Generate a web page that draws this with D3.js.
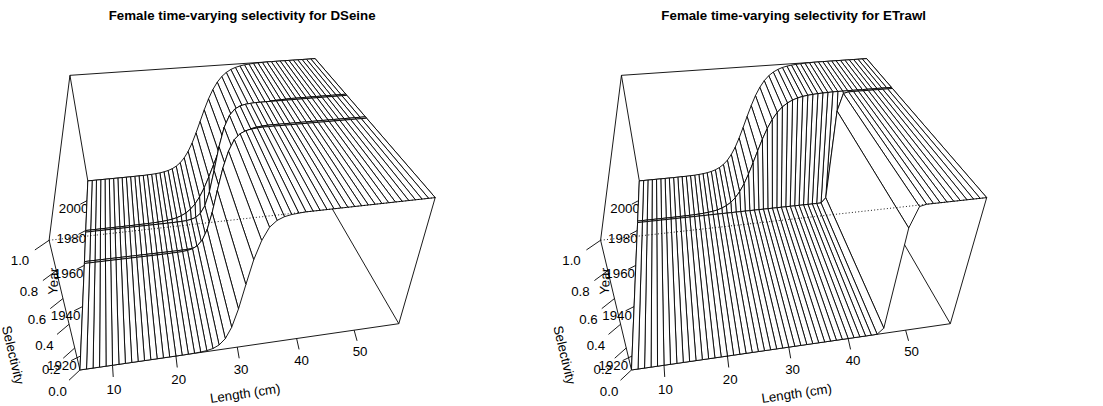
<!DOCTYPE html>
<html>
<head>
<meta charset="utf-8">
<script src="https://cdn.jsdelivr.net/npm/d3@7/dist/d3.min.js"></script>
<style>
html,body{margin:0;padding:0;background:#fff;}
svg{display:block;}
</style>
</head>
<body>
<svg id="chart" width="1103" height="406"></svg>
<script>
// ---------------- data ----------------
const lengths = [5,6,7,8,9,10,11,12,13,14,15,16,17,18,19,20,21,22,23,24,25,26,27,28,29,30,31,
                 32,33,34,35,36,37,38,39,40,41,42,43,44,45,46,47,48,49,50,51,52,53,54,55,56,57,58];
const yearRange = [1915, 2015];
const titles = ["Female time-varying selectivity for DSeine", "Female time-varying selectivity for ETrawl"];
const axisLabels = ["Length (cm)", "Year", "Selectivity"];

// DSeine: years on the grid and the selectivity block used in each of them
const dseineYears = [1915, 1961, 1962, 1979, 1980, 2015];
const dseineBlockOfYear = [0, 0, 1, 1, 2, 2];
const dseineBlock1 = [0,0,0,0,0,0,0,0,0,0,0,0,0,0,0,0,0,
  0.001,0.002,0.004,0.009,0.02,0.045,0.095,0.19,0.34,0.53,0.71,0.84,0.925,0.965,0.984,0.993,0.997,
  1,1,1,1,1,1,1,1,1,1,1,1,1,1,1,1,1,1,1,1];
const dseineBlock2 = [0,0,0,0,0,0,0,0,0,0,0,0,0,0,0,0,0,0,0,
  0.001,0.002,0.005,0.012,0.027,0.062,0.134,0.265,0.458,0.664,0.822,0.915,0.962,0.983,0.993,0.997,
  1,1,1,1,1,1,1,1,1,1,1,1,1,1,1,1,1,1,1];
const dseineBlock3 = [0,0,0,0,0,0,0,0,0,0,0,
  0.001,0.001,0.002,0.003,0.005,0.008,0.012,0.019,0.029,0.044,0.067,0.1,0.147,0.211,0.293,0.392,
  0.5,0.608,0.707,0.789,0.853,0.9,0.933,0.956,0.971,0.981,0.988,0.992,0.995,0.997,0.998,
  1,1,1,1,1,1,1,1,1,1,1,1];

// ETrawl
const etrawlYears = [1915, 1985, 1986, 2015];
const etrawlBlockOfYear = [0, 0, 1, 1];
const etrawlBlock1 = [0,0,0,0,0,0,0,0,0,0,0,0,0,0,0,0,0,0,0,0,0,0,0,0,0,0,0,0,0,0,0,0,0,0,0,0,0,0,0,0,
  0.001,0.05,0.85,0.99,
  1,1,1,1,1,1,1,1,1,1];
const etrawlBlock2 = [0,0,0,0,0,0,0,0,0,
  0.001,0.0015,0.002,0.003,0.005,0.008,0.012,0.018,0.027,0.041,
  0.061,0.09,0.131,0.187,0.259,0.348,0.448,0.552,0.652,0.741,
  0.813,0.869,0.91,0.939,0.959,0.973,0.982,0.988,0.992,0.995,0.997,0.998,
  1,1,1,1,1,1,1,1,1,1,1,1,1];

// ---------------- view (persp style) ----------------
const theta = -10, phi = 35, expandZ = 0.5, rEye = 2.8, dEye = 1;
const FONT = '"Liberation Sans", Arial, Helvetica, sans-serif';
const FS = 13.3;

const panels = [
  {title: titles[0], years: dseineYears, blockOfYear: dseineBlockOfYear,
   blocks: [dseineBlock1, dseineBlock2, dseineBlock3], region: {x: 49.1, y: 40, w: 386.1, h: 348.6}},
  {title: titles[1], years: etrawlYears, blockOfYear: etrawlBlockOfYear,
   blocks: [etrawlBlock1, etrawlBlock2], region: {x: 49.1 + 551.5, y: 40, w: 386.1, h: 348.6}}
];

const svg = d3.select("#chart");
svg.append("rect").attr("width", 1103).attr("height", 406).attr("fill", "#fff");

function I4(){return [[1,0,0,0],[0,1,0,0],[0,0,1,0],[0,0,0,1]];}
function matMul(A,B){const C=[];for(let i=0;i<4;i++){C.push([0,0,0,0]);for(let j=0;j<4;j++){let s=0;for(let k=0;k<4;k++)s+=A[i][k]*B[k][j];C[i][j]=s;}}return C;}
function buildVT(xlim,ylim,zlim){
  let VT=I4();
  const acc=T=>{VT=matMul(VT,T);};
  const xc=(xlim[0]+xlim[1])/2, yc=(ylim[0]+ylim[1])/2, zc=(zlim[0]+zlim[1])/2;
  const xs=Math.abs(xlim[1]-xlim[0])/2, ys=Math.abs(ylim[1]-ylim[0])/2, zs=Math.abs(zlim[1]-zlim[0])/2;
  let T=I4(); T[3][0]=-xc; T[3][1]=-yc; T[3][2]=-zc; acc(T);
  T=I4(); T[0][0]=1/xs; T[1][1]=1/ys; T[2][2]=expandZ/zs; acc(T);
  const xrot=a=>{const c=Math.cos(a*Math.PI/180),s=Math.sin(a*Math.PI/180);const R=I4();R[1][1]=c;R[2][1]=-s;R[2][2]=c;R[1][2]=s;acc(R);};
  const yrot=a=>{const c=Math.cos(a*Math.PI/180),s=Math.sin(a*Math.PI/180);const R=I4();R[0][0]=c;R[2][0]=s;R[2][2]=c;R[0][2]=-s;acc(R);};
  xrot(-90); yrot(-theta); xrot(phi);
  T=I4(); T[3][2]=-rEye-dEye; acc(T);
  T=I4(); T[2][2]=-1; T[3][3]=0; T[2][3]=-1/dEye; acc(T);
  return VT;
}
function trans(VT,x,y,z){const u=[x,y,z,1];const v=[0,0,0,0];for(let i=0;i<4;i++)for(let j=0;j<4;j++)v[i]+=u[j]*VT[j][i];return v;}

function drawPanel(P){
  const g = svg.append("g");
  const xlim = d3.extent(lengths), ylim = yearRange;
  const Z = lengths.map((L,i)=>P.years.map((y,j)=>P.blocks[P.blockOfYear[j]][i]));
  const zlim = d3.extent(Z.flat());
  const VT = buildVT(xlim,ylim,zlim);
  const pr=(x,y,z)=>{const v=trans(VT,x,y,z);return [v[0]/v[3],v[1]/v[3],v[3]];};

  let xmin=0,xmax=0,ymin=0,ymax=0;
  for(const a of xlim)for(const b of ylim)for(const c of zlim){
    const p=pr(a,b,c);
    xmin=Math.min(xmin,p[0]);xmax=Math.max(xmax,p[0]);ymin=Math.min(ymin,p[1]);ymax=Math.max(ymax,p[1]);
  }
  const R=P.region;
  const k=Math.min(R.w/(xmax-xmin), R.h/(ymax-ymin));
  const xadd=.5*(R.w/k-(xmax-xmin)), yadd=.5*(R.h/k-(ymax-ymin));
  const sx=d3.scaleLinear().domain([xmin-xadd,xmax+xadd]).range([R.x,R.x+R.w]);
  const sy=d3.scaleLinear().domain([ymin-yadd,ymax+yadd]).range([R.y+R.h,R.y]);
  const S=(x,y,z)=>{const p=pr(x,y,z);return [sx(p[0]),sy(p[1])];};
  const line=(a,b,dash)=>{g.append("line").attr("x1",a[0]).attr("y1",a[1]).attr("x2",b[0]).attr("y2",b[1])
      .attr("stroke","#000").attr("stroke-width",0.9).attr("stroke-dasharray",dash||null);};

  // title
  g.append("text").attr("x",R.x+R.w/2).attr("y",19.6).attr("text-anchor","middle")
    .attr("font-family",FONT).attr("font-weight","bold").attr("font-size",FS).attr("fill","#000").text(P.title);

  // box edges: front / back faces decided from the eye position
  const Dd=rEye+dEye, rad=Math.PI/180;
  const eye=[Dd*Math.cos(phi*rad)*Math.sin(theta*rad), -Dd*Math.cos(phi*rad)*Math.cos(theta*rad), Dd*Math.sin(phi*rad)];
  const lim=[1,1,expandZ];
  const faceFront=(dim,side)=> side===0 ? eye[dim] < -lim[dim] : eye[dim] > lim[dim];
  const lims=[xlim,ylim,zlim];
  const edges=[];
  for(let d=0;d<3;d++){
    const o=[0,1,2].filter(q=>q!==d);
    for(const s1 of [0,1])for(const s2 of [0,1]){
      const a=[0,0,0],b=[0,0,0];a[o[0]]=b[o[0]]=s1;a[o[1]]=b[o[1]]=s2;a[d]=0;b[d]=1;
      const front = faceFront(o[0],s1) && faceFront(o[1],s2);
      edges.push({a,b,front});
    }
  }
  const pt=idx=>S(lims[0][idx[0]],lims[1][idx[1]],lims[2][idx[2]]);
  edges.filter(e=>!e.front).forEach(e=>line(pt(e.a),pt(e.b)));

  // axes
  const xr=xlim[1]-xlim[0], yr=ylim[1]-ylim[0], zr=zlim[1]-zlim[0];
  const tickL=0.03;
  const txt=(p,s,rot)=>{
    g.append("text").attr("transform",`translate(${p[0]},${p[1]}) rotate(${rot||0})`)
      .attr("dy","0.36em").attr("text-anchor","middle").attr("font-family",FONT).attr("font-size",FS)
      .attr("fill","#000").text(s);
  };
  const angle=(a,b)=>{let t=Math.atan2(b[1]-a[1],b[0]-a[0])*180/Math.PI;if(t>90)t-=180;if(t<-90)t+=180;return t;};
  const xt=d3.ticks(xlim[0],xlim[1],5).filter(v=>v>=xlim[0]&&v<=xlim[1]);
  const yt=d3.ticks(ylim[0],ylim[1],5).filter(v=>v>=ylim[0]&&v<=ylim[1]);
  const zt=d3.ticks(zlim[0],zlim[1],5);
  const f1=d3.format(".1f");
  // x axis on (ymin, zmin)
  xt.forEach(v=>{
    line(S(v,ylim[0],zlim[0]),S(v,ylim[0]-tickL*yr,zlim[0]-tickL*zr));
    txt(S(v,ylim[0]-2*tickL*yr,zlim[0]-2*tickL*zr),String(v));
  });
  txt(S((xt[0]+xt[xt.length-1])/2,ylim[0]-4*tickL*yr,zlim[0]-4*tickL*zr),axisLabels[0],
      angle(S(xlim[0],ylim[0],zlim[0]),S(xlim[1],ylim[0],zlim[0])));
  // y axis on (xmin, zmin)
  yt.forEach(v=>{
    line(S(xlim[0],v,zlim[0]),S(xlim[0]-tickL*xr,v,zlim[0]-tickL*zr));
    txt(S(xlim[0]-2*tickL*xr,v,zlim[0]-2*tickL*zr),String(v));
  });
  txt(S(xlim[0]-4*tickL*xr,(yt[0]+yt[yt.length-1])/2,zlim[0]-4*tickL*zr),axisLabels[1],
      angle(S(xlim[0],ylim[0],zlim[0]),S(xlim[0],ylim[1],zlim[0])));
  // z axis on (xmin, ymin)
  zt.forEach(v=>{
    line(S(xlim[0],ylim[0],v),S(xlim[0]-tickL*xr,ylim[0]-tickL*yr,v));
    txt(S(xlim[0]-2*tickL*xr,ylim[0]-2*tickL*yr,v),f1(v));
  });
  txt(S(xlim[0]-4*tickL*xr,ylim[0]-4*tickL*yr,(zt[0]+zt[zt.length-1])/2),axisLabels[2],
      angle(S(xlim[0],ylim[0],zlim[0]),S(xlim[0],ylim[0],zlim[1])));

  // surface facets, farthest first
  const facets=[];
  for(let i=0;i<lengths.length-1;i++)for(let j=0;j<P.years.length-1;j++){
    let dmax=-Infinity;
    for(const ii of [0,1])for(const jj of [0,1]){const v=trans(VT,lengths[i+ii],P.years[j+jj],0);if(v[3]>dmax)dmax=v[3];}
    facets.push({i,j,depth:dmax});
  }
  facets.sort((a,b)=>b.depth-a.depth);
  const ln=d3.line();
  g.append("g").selectAll("path").data(facets).join("path")
    .attr("d",f=>{const i=f.i,j=f.j;return ln([
      S(lengths[i],P.years[j],Z[i][j]),S(lengths[i+1],P.years[j],Z[i+1][j]),
      S(lengths[i+1],P.years[j+1],Z[i+1][j+1]),S(lengths[i],P.years[j+1],Z[i][j+1])])+"Z";})
    .attr("fill","#fff").attr("stroke","#000").attr("stroke-width",0.9).attr("stroke-linejoin","round");

  // front edges, dotted
  edges.filter(e=>e.front).forEach(e=>line(pt(e.a),pt(e.b),"1,2.2"));
}
panels.forEach(drawPanel);
</script>
</body>
</html>
